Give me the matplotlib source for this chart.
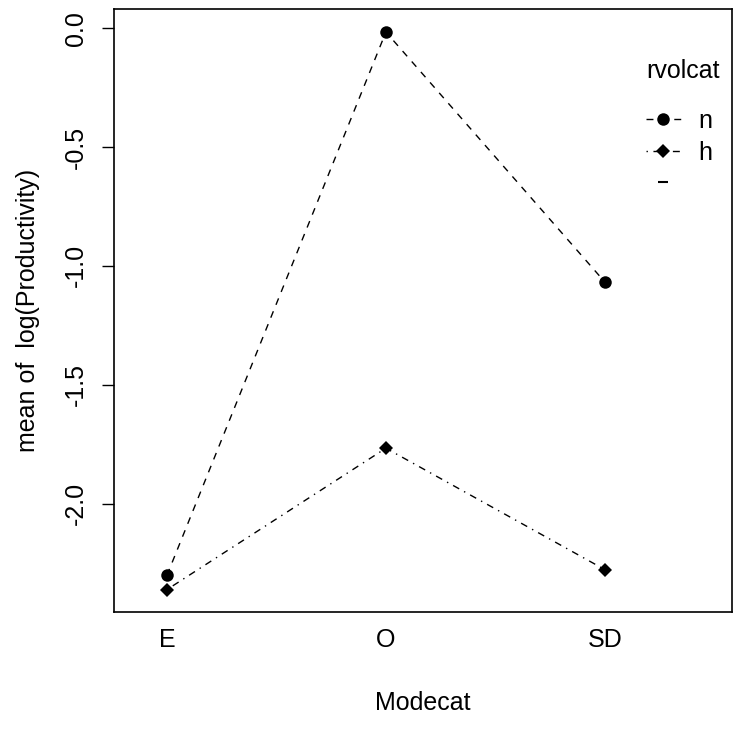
import matplotlib.pyplot as plt
from matplotlib.lines import Line2D

plt.rcParams['font.family'] = ['Liberation Sans', 'DejaVu Sans']

# interaction plot data
modecat = ['E', 'O', 'SD']
n_means = [-2.302, -0.016, -1.068]
h_means = [-2.362, -1.767, -2.278]

xpos = [1, 2, 3]

dashed = (0, (5, 5))
dotdash = (0, (1, 4, 5, 4))

fig = plt.figure(figsize=(7.4, 7.42), dpi=100)
ax = fig.add_axes([0.154, 0.1756, 0.835, 0.812])

ax.plot(xpos, n_means, color='black', lw=1, linestyle=dashed,
        marker='o', markersize=9, markeredgewidth=0)
ax.plot(xpos, h_means, color='black', lw=1, linestyle=dotdash,
        marker='D', markersize=7, markeredgewidth=0)

ax.set_xlim(0.758, 3.58)
ax.set_ylim(-2.455, 0.08)

ax.set_xticks(xpos)
ax.set_xticklabels(modecat)
ax.tick_params(axis='x', length=0, pad=12, labelsize=18)
ax.set_yticks([0.0, -0.5, -1.0, -1.5, -2.0])
ax.set_yticklabels(['0.0', '-0.5', '-1.0', '-1.5', '-2.0'], rotation=90, va='center')
ax.tick_params(axis='y', length=9, width=1, pad=10, labelsize=18)

for s in ax.spines.values():
    s.set_linewidth(1.2)

ax.set_xlabel('Modecat', fontsize=18, labelpad=28)
ax.set_ylabel('mean of  log(Productivity)', fontsize=18, labelpad=17)

handles = [
    Line2D([], [], color='black', lw=1, linestyle=dashed, marker='o',
           markersize=9, markeredgewidth=0),
    Line2D([], [], color='black', lw=1, linestyle=dotdash, marker='D',
           markersize=7, markeredgewidth=0),
    Line2D([], [], color='black', linestyle='none', marker='_',
           markersize=7, markeredgewidth=1.5),
]
leg = ax.legend(handles, ['n', 'h', ''], title='rvolcat', frameon=False,
                loc='upper right', bbox_to_anchor=(1.008, 0.947), fontsize=18,
                title_fontsize=18, handlelength=1.4, handletextpad=0.7,
                labelspacing=0.3, borderpad=0.2)
leg._legend_box.sep = 19
leg._legend_box.align = 'left'

fig.savefig('out.png', dpi=100)
